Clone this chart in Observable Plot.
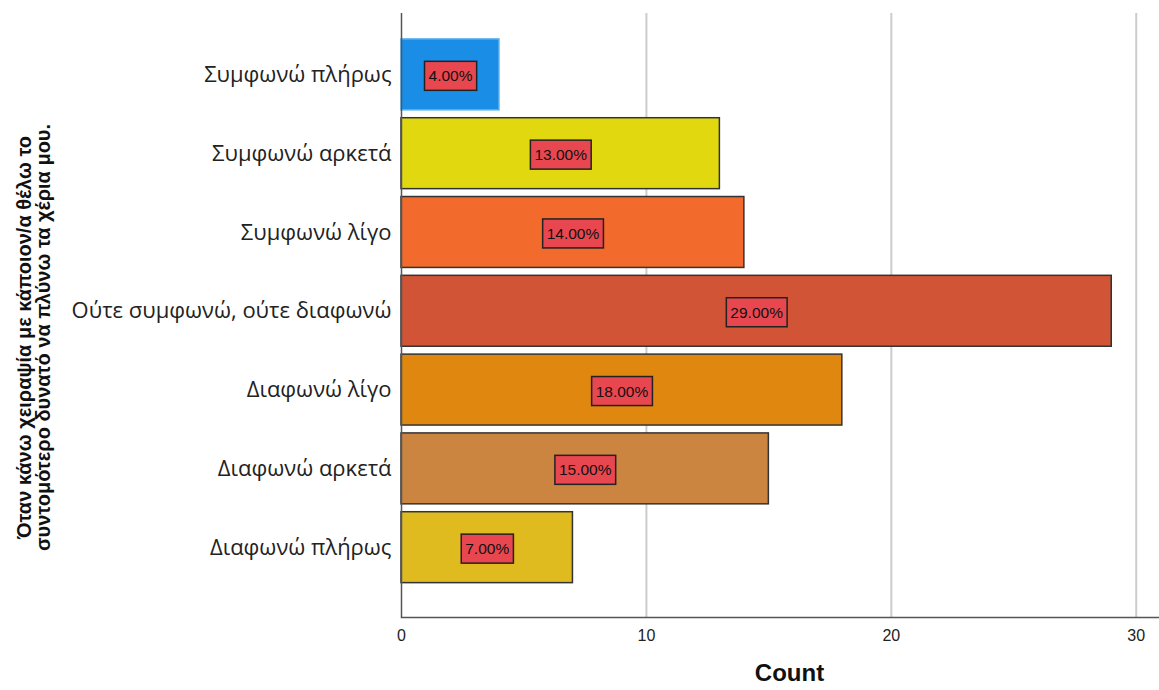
<!DOCTYPE html>
<html><head><meta charset="utf-8">
<script src="https://cdn.jsdelivr.net/npm/d3@7"></script>
<script src="https://cdn.jsdelivr.net/npm/@observablehq/plot@0.6"></script>
<style>body{margin:0;background:#fff;overflow:hidden}</style>
</head><body><div id="chart"></div>
<script>
const categories = ["Συμφωνώ πλήρως","Συμφωνώ αρκετά","Συμφωνώ λίγο","Ούτε συμφωνώ, ούτε διαφωνώ","Διαφωνώ λίγο","Διαφωνώ αρκετά","Διαφωνώ πλήρως"];
const counts = [4,13,14,29,18,15,7];
const percents = [4,13,14,29,18,15,7];
const barColors = ["#1a8ee6","#e2d80f","#f26a2c","#d15436","#df870e","#cc8441","#dfbb1f"];
const barStrokes = ["#5ab0ef","#333333","#333333","#333333","#333333","#333333","#333333"];
const xTicks = [0,10,20,30];
const yTitle = ["Όταν κάνω χειραψία με κάποιον/α θέλω το","συντομότερο δυνατό να πλύνω τα χέρια μου."];
const xTitle = "Count";

const data = categories.map((c,i)=>({cat:c,count:counts[i],pct:percents[i],color:barColors[i],stroke:barStrokes[i]}));

const chart = Plot.plot({
  width:1159, height:690, marginLeft:401, marginRight:0, marginTop:13, marginBottom:73,
  style:{fontFamily:"'Liberation Sans', Arial, sans-serif", background:"#fff", color:"#222"},
  x:{domain:[0,30.95], ticks:xTicks, label:null},
  y:{domain:categories, paddingInner:0.1, paddingOuter:0.3825, align:0.43, round:false, label:null},
  marks:[
    Plot.gridX(xTicks.slice(1), {stroke:"#cccccc", strokeOpacity:1, strokeWidth:2}),
    Plot.barX(data, {y:"cat", x:"count", fill:"color", stroke:"stroke", strokeWidth:1.5, inset:0}),
    Plot.ruleX([0], {stroke:"#555", strokeWidth:1.5}),
    Plot.frame({anchor:"bottom", stroke:"#555", strokeWidth:1.5}),
    Plot.axisX({ticks:xTicks, tickSize:0, tickPadding:12, fontSize:16, label:null, fill:"#222"}),
    Plot.axisY({tickSize:0, tickPadding:10, fontSize:22, label:null, fill:"#222", fontFamily:"'Open Sans', sans-serif"}),
    Plot.text(data, {y:"cat", x:d=>d.count/2, dy:1.5, text:d=>d.pct.toFixed(2)+"%", fontSize:15.5, fill:"#111"}),
    Plot.text([xTitle], {frameAnchor:"bottom", dy:63, dx:9, fontSize:24, fontWeight:"bold", fill:"#111"}),
    Plot.text([yTitle.join("\n")], {frameAnchor:"left", rotate:-90, dx:-367, dy:22, fontSize:20, fontWeight:"bold", lineHeight:0.95, fill:"#111", textAnchor:"middle", lineAnchor:"middle"})
  ]
});
document.getElementById("chart").appendChild(chart);

// red label boxes behind the percentage texts
chart.querySelectorAll("text").forEach(t => {
  if (!/%$/.test(t.textContent.trim()) || t.children.length) return;
  const b = t.getBBox();
  const r = document.createElementNS("http://www.w3.org/2000/svg","rect");
  const px = 4, py = 6;
  r.setAttribute("x", b.x - px);
  r.setAttribute("y", b.y - py);
  r.setAttribute("width", b.width + 2*px);
  r.setAttribute("height", b.height + 2*py);
  r.setAttribute("fill", "#e9474f");
  r.setAttribute("stroke", "#222");
  r.setAttribute("stroke-width", "1.5");
  if (t.getAttribute("transform")) r.setAttribute("transform", t.getAttribute("transform"));
  t.parentNode.insertBefore(r, t);
});
</script>
</body></html>
